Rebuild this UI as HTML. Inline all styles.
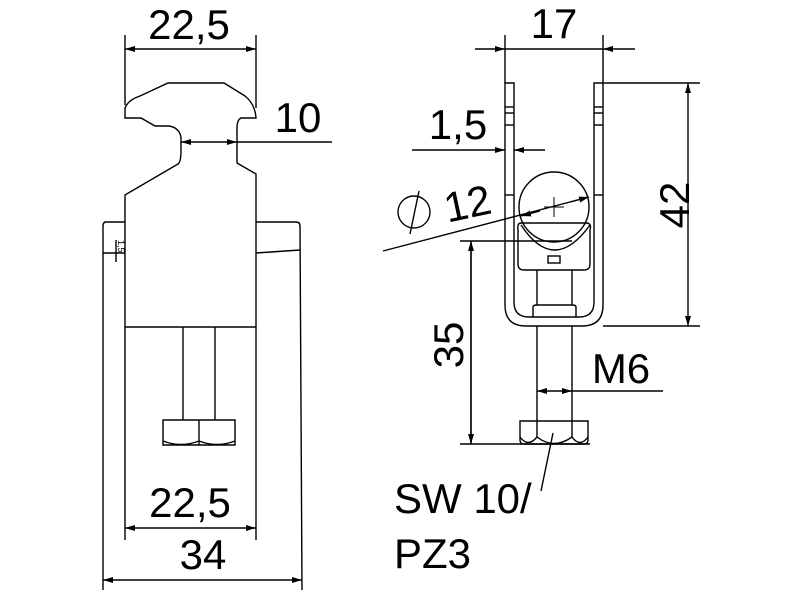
<!DOCTYPE html>
<html><head><meta charset="utf-8"><style>
html,body{margin:0;padding:0;background:#fff;}
svg{display:block;}
text{font-family:"Liberation Sans",sans-serif;fill:#000;}
</style></head><body>
<svg width="800" height="600" viewBox="0 0 800 600" xmlns="http://www.w3.org/2000/svg">
<defs>
<marker id="a" viewBox="0 0 10 6" refX="10" refY="3" markerWidth="10" markerHeight="6" orient="auto-start-reverse" markerUnits="userSpaceOnUse"><path d="M0,0 L10,3 L0,6 Z" fill="#000"/></marker>
</defs>
<g fill="none" stroke="#000" stroke-width="1.4">
<!-- LEFT VIEW -->
<line x1="125" y1="35" x2="125" y2="105"/>
<line x1="256" y1="35" x2="256" y2="108"/>
<line x1="125" y1="49" x2="256" y2="49" marker-start="url(#a)" marker-end="url(#a)"/>
<path d="M125,118 L125,108 Q128,100 140,96 L168,83 L224,83 L245,96 Q255,104 256,118 L241,118 Q237,120 237,128 L237,163 L256,174 L256,327 L125,327 L125,195 L178,164 Q181,162 181,150 L181,138 Q180,128 169,126 L155,126 L141,118 Z"/>
<line x1="181" y1="142" x2="237" y2="142" marker-start="url(#a)" marker-end="url(#a)"/>
<line x1="237" y1="142" x2="332" y2="142"/>
<path d="M125,222 L106,222 Q103,222 103,226 L103,590"/>
<path d="M256,222 L296,222 Q300,222 300,226 L302,590"/>
<line x1="256" y1="253" x2="300" y2="250"/>
<line x1="103" y1="253" x2="125" y2="253"/>
<line x1="116" y1="240" x2="116" y2="262"/>
<line x1="183" y1="327" x2="183" y2="420"/>
<line x1="215" y1="327" x2="215" y2="420"/>
<path d="M163,420 L235,420 L235,445 L163,445 Z"/>
<line x1="199" y1="420" x2="199" y2="445"/>
<path d="M163,441 Q181,448 199,441 Q217,448 235,441"/>
<line x1="125" y1="327" x2="125" y2="540"/>
<line x1="256" y1="327" x2="256" y2="540"/>
<line x1="125" y1="528" x2="256" y2="528" marker-start="url(#a)" marker-end="url(#a)"/>
<line x1="103" y1="580" x2="302" y2="580" marker-start="url(#a)" marker-end="url(#a)"/>

<!-- RIGHT VIEW -->
<line x1="505" y1="35" x2="505" y2="83"/>
<line x1="603" y1="35" x2="603" y2="83"/>
<line x1="475" y1="49" x2="505" y2="49" marker-end="url(#a)"/>
<line x1="505" y1="49" x2="603" y2="49"/>
<line x1="635" y1="49" x2="603" y2="49" marker-end="url(#a)"/>
<path d="M505,83 L514,83 L514,302 Q514,317 529,317 L579,317 Q594,317 594,302 L594,83 L603,83 L603,305 Q603,326 582,326 L526,326 Q505,326 505,305 Z"/>
<line x1="505" y1="107" x2="514" y2="107"/><line x1="505" y1="113" x2="514" y2="113"/><line x1="505" y1="125" x2="514" y2="125"/>
<line x1="594" y1="107" x2="603" y2="107"/><line x1="594" y1="113" x2="603" y2="113"/><line x1="594" y1="125" x2="603" y2="125"/>
<line x1="505" y1="195" x2="514" y2="195"/><line x1="594" y1="195" x2="603" y2="195"/>
<line x1="603" y1="83" x2="700" y2="83"/>
<line x1="603" y1="326" x2="700" y2="326"/>
<line x1="688" y1="83" x2="688" y2="326" marker-start="url(#a)" marker-end="url(#a)"/>
<line x1="412" y1="150" x2="505" y2="150" marker-end="url(#a)"/>
<line x1="545" y1="150" x2="514" y2="150" marker-end="url(#a)"/>
<circle cx="554" cy="207" r="35"/>
<line x1="544" y1="207" x2="564" y2="207" stroke-width="1"/>
<line x1="554" y1="197" x2="554" y2="217" stroke-width="1"/>
<line x1="383" y1="251" x2="589" y2="197"/>
<line x1="540" y1="211" x2="521" y2="216" marker-end="url(#a)"/>
<line x1="570" y1="202" x2="589" y2="197" marker-end="url(#a)"/>
<circle cx="414" cy="212" r="16"/>
<line x1="419" y1="191" x2="410" y2="234"/>
<path d="M521,223 L586,223 Q592,223 590,230 L590,264 Q590,270 584,270 L524,270 Q518,270 518,264 L518,230 Q517,223 521,223 Z"/>
<path d="M521,225 Q554,275 590,225"/>
<rect x="548" y="256" width="12" height="7"/>
<line x1="537" y1="270" x2="537" y2="305"/>
<line x1="572" y1="270" x2="572" y2="305"/>
<path d="M533,317 L533,307 Q533,305 537,305 L572,305 Q576,305 576,307 L576,317"/>
<line x1="460" y1="241" x2="572" y2="241"/>
<line x1="471" y1="444" x2="471" y2="241" marker-end="url(#a)"/>
<line x1="471" y1="241" x2="471" y2="444" marker-end="url(#a)"/>
<line x1="460" y1="444" x2="590" y2="444"/>
<line x1="537" y1="326" x2="537" y2="421"/>
<line x1="572" y1="326" x2="572" y2="421"/>
<path d="M520,421 L588,421 L588,440 Q588,444 584,444 L524,444 Q520,444 520,440 Z"/>
<line x1="537" y1="421" x2="537" y2="437"/><line x1="572" y1="421" x2="572" y2="437"/>
<path d="M520,437 Q528,448 537,437 Q554,450 572,437 Q580,448 588,437"/>
<line x1="555" y1="391" x2="537" y2="391" marker-end="url(#a)"/>
<line x1="555" y1="391" x2="572" y2="391" marker-end="url(#a)"/>
<line x1="572" y1="391" x2="663" y2="391"/>
<line x1="553" y1="433" x2="541" y2="491"/>
</g>
<g font-size="42">
<text x="189" y="39" text-anchor="middle">22,5</text>
<text x="298" y="132" text-anchor="middle">10</text>
<text x="190" y="517" text-anchor="middle">22,5</text>
<text x="203" y="569" text-anchor="middle">34</text>
<text x="554" y="38" text-anchor="middle">17</text>
<text x="458" y="139" text-anchor="middle">1,5</text>
<text x="468" y="218" text-anchor="middle" transform="rotate(-12 468 206)">12</text>
<text x="678" y="205" text-anchor="middle" transform="rotate(-90 678 205)" dominant-baseline="middle">42</text>
<text x="452" y="345" text-anchor="middle" transform="rotate(-90 452 345)" dominant-baseline="middle">35</text>
<text x="621" y="383" text-anchor="middle">M6</text>
<text x="394" y="513">SW 10/</text>
<text x="394" y="568">PZ3</text>
</g>
<text x="118" y="240" font-size="9" transform="rotate(90 118 240)">1,5</text>
</svg>
</body></html>
